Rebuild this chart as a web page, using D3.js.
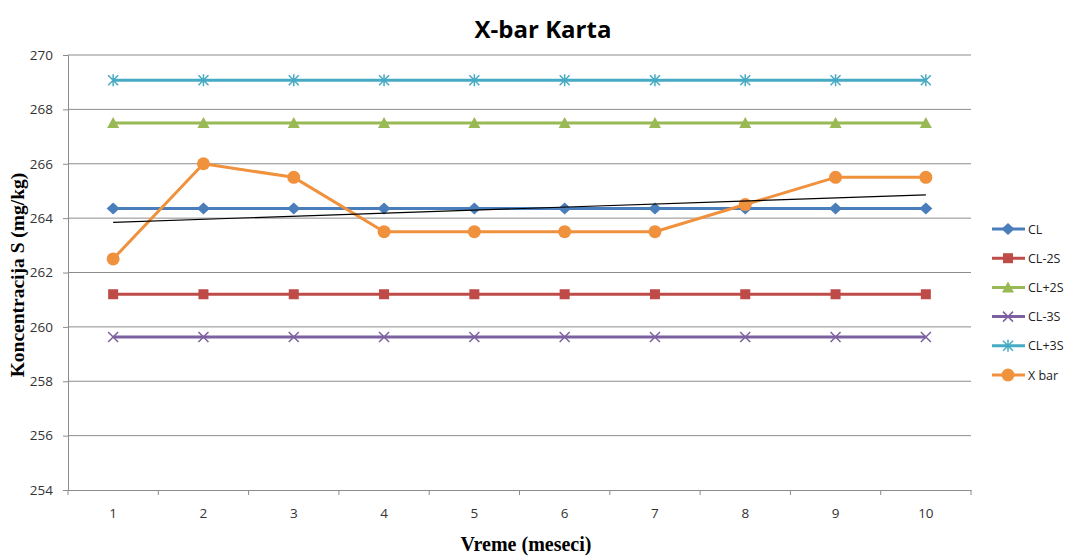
<!DOCTYPE html>
<html><head><meta charset="utf-8">
<script src="https://cdn.jsdelivr.net/npm/d3@7"></script>
<style>body{margin:0;background:#fff}svg{display:block}</style>
</head><body>
<svg id="c" width="1068" height="556"></svg>
<script>
const months = [1,2,3,4,5,6,7,8,9,10];
const yTicks = [254,256,258,260,262,264,266,268,270];
const CL    = [264.35,264.35,264.35,264.35,264.35,264.35,264.35,264.35,264.35,264.35];
const CLm2S = [261.2,261.2,261.2,261.2,261.2,261.2,261.2,261.2,261.2,261.2];
const CLp2S = [267.5,267.5,267.5,267.5,267.5,267.5,267.5,267.5,267.5,267.5];
const CLm3S = [259.63,259.63,259.63,259.63,259.63,259.63,259.63,259.63,259.63,259.63];
const CLp3S = [269.07,269.07,269.07,269.07,269.07,269.07,269.07,269.07,269.07,269.07];
const Xbar  = [262.5,266,265.5,263.5,263.5,263.5,263.5,264.5,265.5,265.5];
const seriesNames = ["CL","CL-2S","CL+2S","CL-3S","CL+3S","X bar"];

const series = [
  {name:seriesNames[0], values:CL,    color:"#4A7EBB", sym:"diamond"},
  {name:seriesNames[1], values:CLm2S, color:"#BE4B48", sym:"square"},
  {name:seriesNames[2], values:CLp2S, color:"#98B954", sym:"triangle"},
  {name:seriesNames[3], values:CLm3S, color:"#7D60A0", sym:"x"},
  {name:seriesNames[4], values:CLp3S, color:"#46AAC5", sym:"star"},
  {name:seriesNames[5], values:Xbar,  color:"#F0913E", sym:"circle"}
];

const svg = d3.select("#c");
const L=68, R=971, T=55, B=490;
const x = d3.scaleBand().domain(months).range([L,R]);
const y = d3.scaleLinear().domain([254,270]).range([B,T]);
const cx = d => x(d)+x.bandwidth()/2;

// gridlines
svg.append("g").selectAll("line").data(yTicks.filter(t=>t!==254)).join("line")
  .attr("x1",L).attr("x2",R).attr("y1",d=>y(d)).attr("y2",d=>y(d))
  .attr("stroke","#8c8c8c").attr("stroke-width",1);

// axes
const yAxis = d3.axisLeft(y).tickValues(yTicks).tickSize(5).tickPadding(10).tickFormat(d3.format("d"));
const gy = svg.append("g").attr("transform",`translate(${L},0)`).call(yAxis);
gy.select(".domain").attr("stroke","#8c8c8c");
gy.selectAll(".tick line").attr("stroke","#8c8c8c");
gy.selectAll("text").attr("font-family","'Open Sans',sans-serif").attr("font-size",13.5).attr("fill","#333");

const xAxis = d3.axisBottom(x).tickSize(0).tickPadding(18);
const gx = svg.append("g").attr("transform",`translate(0,${B})`).call(xAxis);
gx.select(".domain").attr("stroke","#8c8c8c");
gx.selectAll("text").attr("font-family","'Open Sans',sans-serif").attr("font-size",13.5).attr("fill","#333");
// boundary tick marks
gx.append("g").selectAll("line").data(months.concat([11])).join("line")
  .attr("x1",(d,i)=>L+i*x.bandwidth()).attr("x2",(d,i)=>L+i*x.bandwidth())
  .attr("y1",0).attr("y2",5).attr("stroke","#8c8c8c");

// symbol drawing
function drawSym(g, sym, color, px, py){
  if(sym==="diamond"){
    g.append("path").attr("d",`M${px-6.5},${py}L${px},${py-6}L${px+6.5},${py}L${px},${py+6}Z`).attr("fill",color);
  } else if(sym==="square"){
    g.append("rect").attr("x",px-5).attr("y",py-5).attr("width",10).attr("height",10).attr("fill",color);
  } else if(sym==="triangle"){
    g.append("path").attr("d",`M${px-6},${py+5}L${px},${py-6}L${px+6},${py+5}Z`).attr("fill",color);
  } else if(sym==="x"){
    g.append("path").attr("d",`M${px-5},${py-5}L${px+5},${py+5}M${px-5},${py+5}L${px+5},${py-5}`).attr("stroke",color).attr("stroke-width",1.5);
  } else if(sym==="star"){
    g.append("path").attr("d",`M${px-5},${py-5}L${px+5},${py+5}M${px-5},${py+5}L${px+5},${py-5}M${px},${py-6}L${px},${py+6}`).attr("stroke",color).attr("stroke-width",1.5);
  } else if(sym==="circle"){
    g.append("circle").attr("cx",px).attr("cy",py).attr("r",6.5).attr("fill",color);
  }
}

const line = d3.line().x((d,i)=>cx(months[i])).y(d=>y(d));
series.forEach(s=>{
  const g = svg.append("g");
  g.append("path").attr("d",line(s.values)).attr("fill","none").attr("stroke",s.color).attr("stroke-width",3).attr("stroke-linejoin","round");
  s.values.forEach((v,i)=>drawSym(g,s.sym,s.color,cx(months[i]),y(v)));
});

// linear trend of X bar
const mx = d3.mean(months), my = d3.mean(Xbar);
const slope = d3.sum(months,(m,i)=>(m-mx)*(Xbar[i]-my))/d3.sum(months,m=>(m-mx)**2);
const trend = [months[0], months[months.length-1]].map(m=>[cx(m), y(my+slope*(m-mx))]);
svg.append("line").attr("x1",trend[0][0]).attr("y1",trend[0][1]).attr("x2",trend[1][0]).attr("y2",trend[1][1])
  .attr("stroke","#000").attr("stroke-width",1.2);

// title
svg.append("text").attr("x",543).attr("y",38).attr("text-anchor","middle")
  .attr("font-family","'Open Sans',sans-serif").attr("font-weight","bold").attr("font-size",24).text("X-bar Karta");
// axis titles
svg.append("text").attr("transform","translate(24,275) rotate(-90)").attr("text-anchor","middle")
  .attr("font-family","'Liberation Serif',serif").attr("font-weight","bold").attr("font-size",19.5).text("Koncentracija S (mg/kg)");
svg.append("text").attr("x",526).attr("y",551).attr("text-anchor","middle")
  .attr("font-family","'Liberation Serif',serif").attr("font-weight","bold").attr("font-size",20).text("Vreme (meseci)");

// legend
const lg = svg.append("g");
series.forEach((s,i)=>{
  const yy = 229 + i*29.2;
  lg.append("line").attr("x1",992).attr("x2",1025).attr("y1",yy).attr("y2",yy).attr("stroke",s.color).attr("stroke-width",3);
  drawSym(lg,s.sym,s.color,1008,yy);
  lg.append("text").attr("x",1028).attr("y",yy+4.5).attr("font-family","'Open Sans',sans-serif").attr("font-size",12.5).attr("fill","#222").text(s.name);
});
</script>
</body></html>
